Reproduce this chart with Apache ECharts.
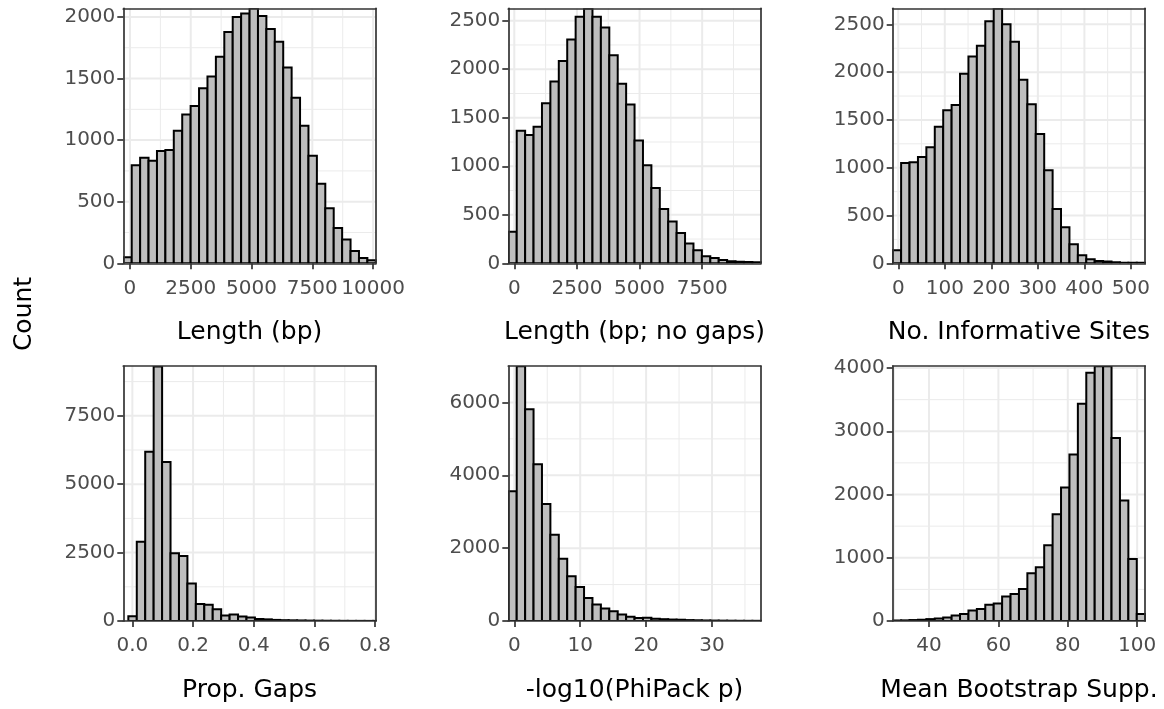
<!DOCTYPE html>
<html><head><meta charset="utf-8">
<script src="https://cdn.jsdelivr.net/npm/echarts@6/dist/echarts.min.js"></script>
<style>html,body{margin:0;padding:0;background:#fff}#c{width:1164px;height:709px}</style>
</head><body><div id="c"></div>
<script>
// ---- data ----
const panelTitles = ['Length (bp)', 'Length (bp; no gaps)', 'No. Informative Sites', 'Prop. Gaps', '-log10(PhiPack p)', 'Mean Bootstrap Supp.'];
const yTitle = 'Count';

const lengthCounts = [50, 795, 857, 833, 912, 920, 1075, 1208, 1276, 1420, 1516, 1676, 1878, 2000, 2027, 2070, 2008, 1902, 1799, 1589, 1344, 1116, 873, 645, 446, 286, 193, 100, 44, 24];
const lengthNoGapCounts = [325, 1366, 1321, 1407, 1649, 1874, 2085, 2306, 2541, 2625, 2541, 2431, 2144, 1850, 1636, 1266, 1010, 775, 560, 432, 311, 204, 135, 73, 55, 35, 20, 17, 14, 10];
const infSitesCounts = [137, 1050, 1057, 1113, 1215, 1429, 1601, 1657, 1984, 2163, 2275, 2532, 2665, 2500, 2317, 1921, 1664, 1352, 973, 569, 376, 200, 84, 42, 25, 18, 11, 7, 7, 7];
const propGapsCounts = [170, 2900, 6190, 9300, 5810, 2480, 2380, 1370, 625, 590, 430, 200, 235, 160, 125, 75, 60, 40, 30, 25, 20, 15, 12, 10, 8, 6, 5, 5, 4, 4];
const phiPackCounts = [3560, 6990, 5810, 4300, 3210, 2370, 1710, 1230, 930, 630, 450, 340, 270, 180, 115, 80, 90, 65, 50, 40, 35, 25, 20, 15, 12, 10, 8, 6, 5, 5];
const bootstrapCounts = [8, 10, 15, 20, 30, 40, 55, 85, 112, 165, 190, 255, 277, 388, 425, 505, 755, 851, 1197, 1686, 2112, 2633, 3436, 3926, 4030, 4030, 2894, 1904, 979, 112];

// bin geometry (data units)
const binStarts = [-275, -239, -12, -0.0132, -0.91, 29.53];
const binWidths = [346.2, 336, 18.09, 0.0278, 1.277, 2.426];

// axis ranges
const xMins = [-275, -239, -12, -0.0298, -0.91, 29.53];
const xMaxs = [10111, 9841, 530.7, 0.802, 37.4, 102.31];
const yMaxs = [2070, 2628, 2668, 9320, 7000, 4032];

// tick values
const xMajor = [[0, 2500, 5000, 7500, 10000], [0, 2500, 5000, 7500], [0, 100, 200, 300, 400, 500], [0, 0.2, 0.4, 0.6, 0.8], [0, 10, 20, 30], [40, 60, 80, 100]];
const xMinor = [[1250, 3750, 6250, 8750], [1250, 3750, 6250, 8750], [50, 150, 250, 350, 450], [0.1, 0.3, 0.5, 0.7], [5, 15, 25, 35], [30, 50, 70, 90]];
const yMajor = [[0, 500, 1000, 1500, 2000], [0, 500, 1000, 1500, 2000, 2500], [0, 500, 1000, 1500, 2000, 2500], [0, 2500, 5000, 7500], [0, 2000, 4000, 6000], [0, 1000, 2000, 3000, 4000]];
const yMinor = [[250, 750, 1250, 1750], [250, 750, 1250, 1750, 2250], [250, 750, 1250, 1750, 2250], [1250, 3750, 6250, 8750], [1000, 3000, 5000], [500, 1500, 2500, 3500]];
const xLabelDecimals = [0, 0, 0, 1, 0, 0];

// ---- chart ----
const panels = [lengthCounts, lengthNoGapCounts, infSitesCounts, propGapsCounts, phiPackCounts, bootstrapCounts];
const FONT = 'DejaVu Sans';
const gridLefts = [123.3, 508.3, 892.7];
const gridTops = [8.3, 366];
const PW = 252.5, PH = 255;
const border = { color: '#333333', width: 1.7 };

const option = { animation: false, backgroundColor: '#fff', grid: [], xAxis: [], yAxis: [], series: [],
  graphic: [{ type: 'text', x: 24, y: 314, rotation: Math.PI / 2,
    style: { text: yTitle, font: '25px "' + FONT + '"', fill: '#000', textAlign: 'center', textVerticalAlign: 'middle' } }]
};

panels.forEach((counts, i) => {
  const col = i % 3, row = Math.floor(i / 3);
  option.grid.push({ left: gridLefts[col], top: gridTops[row], width: PW, height: PH, show: false });
  const dec = xLabelDecimals[i];
  option.xAxis.push({
    type: 'value', gridIndex: i, min: xMins[i], max: xMaxs[i], position: 'bottom', z: 10,
    axisLine: { show: true, onZero: false, lineStyle: border },
    axisTick: { show: true, length: 6, customValues: xMajor[i], lineStyle: border },
    axisLabel: { show: true, customValues: xMajor[i], margin: 15, color: '#4D4D4D', fontSize: 20, fontFamily: FONT,
      formatter: v => Number(v).toFixed(dec) },
    splitLine: { show: false },
    name: panelTitles[i], nameLocation: 'middle', nameGap: 57,
    nameTextStyle: { color: '#000', fontSize: 25, fontFamily: FONT }
  });
  option.xAxis.push({
    type: 'value', gridIndex: i, min: xMins[i], max: xMaxs[i], position: 'top', z: 10,
    axisLine: { show: true, onZero: false, lineStyle: border },
    axisTick: { show: false }, axisLabel: { show: false }, splitLine: { show: false }
  });
  option.yAxis.push({
    type: 'value', gridIndex: i, min: 0, max: yMaxs[i], position: 'left', z: 10,
    axisLine: { show: true, onZero: false, lineStyle: border },
    axisTick: { show: true, length: 6, customValues: yMajor[i], lineStyle: border },
    axisLabel: { show: true, customValues: yMajor[i], margin: 8, color: '#4D4D4D', fontSize: 20, fontFamily: FONT,
      formatter: v => String(v) },
    splitLine: { show: false }
  });
  option.yAxis.push({
    type: 'value', gridIndex: i, min: 0, max: yMaxs[i], position: 'right', z: 10,
    axisLine: { show: true, onZero: false, lineStyle: border },
    axisTick: { show: false }, axisLabel: { show: false }, splitLine: { show: false }
  });

  // grid lines: [orientation (0 = vertical, 1 = horizontal), value, isMajor]
  const gl = [];
  xMinor[i].forEach(v => gl.push([0, v, 0]));
  yMinor[i].forEach(v => gl.push([1, v, 0]));
  xMajor[i].forEach(v => gl.push([0, v, 1]));
  yMajor[i].forEach(v => gl.push([1, v, 1]));
  const x0 = xMins[i], x1 = xMaxs[i], yTop = yMaxs[i];
  option.series.push({
    type: 'custom', xAxisIndex: 2 * i, yAxisIndex: 2 * i, z: 1, clip: true, silent: true,
    data: gl,
    renderItem: (params, api) => {
      const o = api.value(0), v = api.value(1), major = api.value(2);
      let a, b;
      if (o === 0) { a = api.coord([v, 0]); b = api.coord([v, yTop]); }
      else { a = api.coord([x0, v]); b = api.coord([x1, v]); }
      return { type: 'line', shape: { x1: a[0], y1: a[1], x2: b[0], y2: b[1] },
        style: { stroke: '#EBEBEB', lineWidth: major ? 2 : 1 } };
    }
  });

  // histogram bars: [binStart, binEnd, count]
  const bars = counts.map((c, k) => [binStarts[i] + k * binWidths[i], binStarts[i] + (k + 1) * binWidths[i], c]);
  option.series.push({
    type: 'custom', xAxisIndex: 2 * i, yAxisIndex: 2 * i, z: 2, clip: true, silent: true,
    data: bars,
    encode: { x: [0, 1], y: 2 },
    renderItem: (params, api) => {
      const p0 = api.coord([api.value(0), api.value(2)]);
      const p1 = api.coord([api.value(1), 0]);
      return { type: 'rect', shape: { x: p0[0], y: p0[1], width: p1[0] - p0[0], height: p1[1] - p0[1] },
        style: { fill: '#BEBEBE', stroke: '#000', lineWidth: 2 } };
    }
  });
});

const chart = echarts.init(document.getElementById('c'), null, { renderer: 'canvas' });
chart.setOption(option);
</script>
</body></html>
